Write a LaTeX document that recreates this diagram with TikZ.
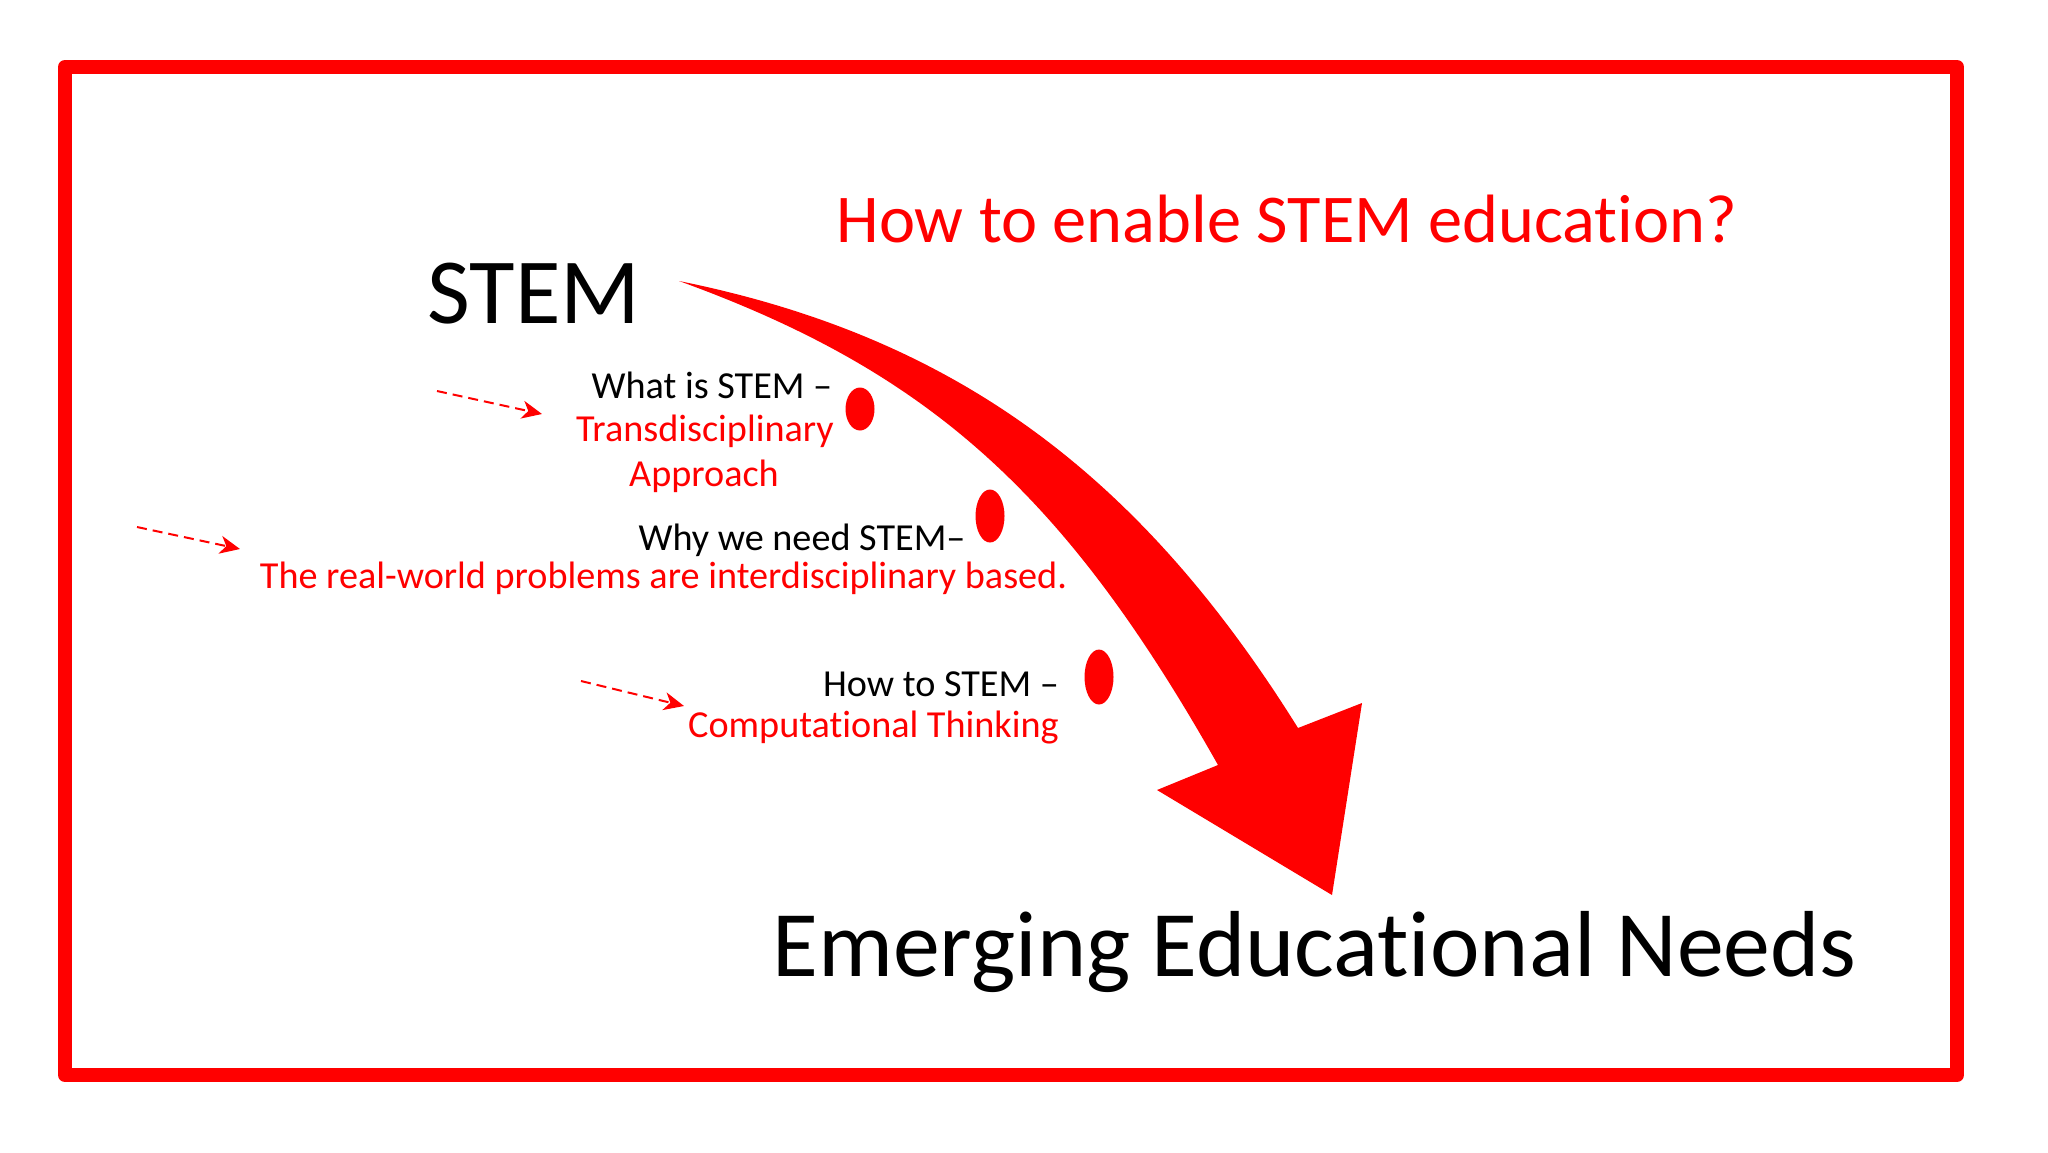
\documentclass[tikz,border=0pt]{standalone}
\usepackage{fontspec}
\setmainfont{Carlito}[Ligatures=NoCommon]
\usetikzlibrary{arrows.meta,shapes.geometric}
\begin{document}
\begin{tikzpicture}[x=0.5pt,y=-0.5pt,
  txt/.style={inner sep=0pt, anchor=base},
  small/.style={txt, font=\fontsize{19.1}{22}\selectfont},
  redtxt/.style={small, text=red},
  blacktxt/.style={small, text=black},
  bigtxt/.style={txt, font=\fontsize{46.6}{52}\selectfont, anchor=base west},
  dot/.style={ellipse, fill=red, inner sep=0pt, minimum width=14.5pt},
  hint/.style={red, line width=1pt, dash pattern=on 5pt off 3pt,
    -{Stealth[length=10pt,width=9pt,inset=3pt]}}
]
\useasboundingbox (0,0) rectangle (2048,1152);
\fill[white] (0,0) rectangle (2048,1152);
% frame
\draw[red, line width=7pt, line join=round] (65,67) rectangle (1957,1075);

% title
\node[txt, anchor=base west, text=red, font=\fontsize{34.2}{40}\selectfont] (title) at (836,242) {How to enable STEM education?};
\node[bigtxt] (stem) at (427,323) {STEM};
\node[bigtxt, font=\fontsize{46.9}{52}\selectfont] (needs) at (772,976) {Emerging Educational Needs};

% big curved arrow
\coordinate (arrstart) at (679,281);
\coordinate (arrtip) at (1332,895);
\fill[red] (arrstart) .. controls (951,336) and (1137,470) .. (1298,728)
  -- (1362,703) -- (arrtip) -- (1157,790) -- (1218,765)
  .. controls (1065,494) and (930,372) .. (arrstart) -- cycle;

% block 1
\node[blacktxt] (what) at (712,398) {What is STEM –};
\node[redtxt] (trans) at (705,441) {Transdisciplinary};
\node[redtxt] (appr) at (704,486) {Approach};
\node[dot, minimum height=21.5pt] (dot1) at (860,409) {};
\coordinate (h1s) at (437,391);
\coordinate (h1e) at (542,414);
\draw[hint] (h1s) -- (h1e);

% block 2
\node[blacktxt] (why) at (802,550) {Why we need STEM–};
\node[redtxt] (real) at (663.5,588) {The real-world problems are interdisciplinary based.};
\node[dot, minimum height=26.5pt] (dot2) at (990,516) {};
\coordinate (h2s) at (137,527);
\coordinate (h2e) at (240,549);
\draw[hint] (h2s) -- (h2e);

% block 3
\node[blacktxt] (how) at (941,696) {How to STEM –};
\node[redtxt] (comp) at (873.5,737) {Computational Thinking};
\node[dot, minimum height=27.5pt] (dot3) at (1099,677) {};
\coordinate (h3s) at (581,681);
\coordinate (h3e) at (684,706);
\draw[hint] (h3s) -- (h3e);
\end{tikzpicture}
\end{document}
